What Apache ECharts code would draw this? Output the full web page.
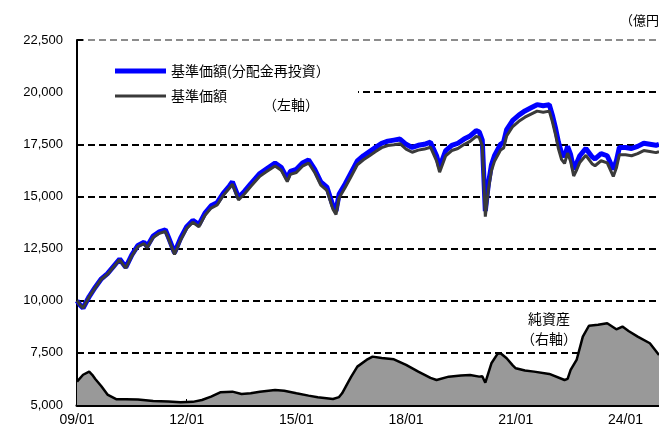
<!DOCTYPE html>
<html>
<head>
<meta charset="utf-8">
<script src="https://cdn.jsdelivr.net/npm/echarts@6/dist/echarts.min.js"></script>
<style>
html,body{margin:0;padding:0;background:#fff;}
#chart{width:659px;height:436px;}
</style>
</head>
<body>
<div id="chart"></div>
<script>
// ---- data ----
const priceDates = ["2009-01","2009-02","2009-03","2009-05","2009-07","2009-09","2009-11","2010-01","2010-03","2010-05","2010-07","2010-09","2010-11","2010-12","2011-02","2011-04","2011-06","2011-07","2011-09","2011-11","2012-01","2012-03","2012-05","2012-07","2012-09","2012-11","2013-01","2013-03","2013-04","2013-06","2013-08","2013-10","2014-01","2014-03","2014-06","2014-08","2014-10","2014-11","2015-01","2015-03","2015-05","2015-07","2015-09","2015-11","2016-01","2016-02","2016-03","2016-05","2016-07","2016-09","2016-11","2017-01","2017-03","2017-05","2017-07","2017-09","2017-11","2018-01","2018-03","2018-05","2018-07","2018-09","2018-11","2018-12","2019-02","2019-04","2019-06","2019-08","2019-10","2019-12","2020-01","2020-02","2020-03","2020-04","2020-05","2020-06","2020-08","2020-09","2020-10","2020-12","2021-02","2021-04","2021-06","2021-08","2021-10","2021-12","2022-01","2022-02","2022-03","2022-04","2022-05","2022-06","2022-07","2022-08","2022-09","2022-10","2022-12","2023-02","2023-03","2023-05","2023-07","2023-09","2023-10","2023-11","2024-01","2024-03","2024-05","2024-07","2024-09","2024-11","2024-12"];
const navReinvested = [10000,9800,9650,10200,10650,11050,11300,11650,12000,11600,12200,12650,12800,12600,13100,13300,13400,13050,12300,13000,13550,13850,13650,14200,14550,14700,15150,15500,15700,14950,15250,15600,16100,16300,16600,16400,15850,16200,16300,16600,16750,16300,15700,15450,14550,14300,15100,15600,16150,16700,16950,17150,17350,17550,17650,17700,17750,17500,17350,17450,17500,17600,16950,16400,17200,17450,17550,17750,17900,18150,18100,17700,14300,15600,16500,16950,17500,17600,18200,18650,18900,19100,19250,19400,19350,19400,18900,18300,17600,17100,16900,17400,17000,16300,16600,16950,17300,16900,16800,17050,16950,16300,16700,17350,17350,17300,17400,17550,17500,17450,17500];
const nav = [10000,9800,9650,10190,10630,11030,11270,11620,11960,11560,12150,12600,12740,12540,13030,13230,13320,12970,12220,12910,13460,13760,13550,14100,14440,14590,15050,15390,15590,14830,15130,15480,15970,16170,16460,16260,15710,16060,16150,16450,16600,16150,15540,15290,14380,14130,14930,15430,15970,16520,16760,16950,17150,17340,17440,17480,17530,17270,17120,17220,17270,17360,16710,16160,16950,17200,17300,17490,17640,17880,17830,17430,14030,15330,16230,16680,17220,17320,17900,18350,18600,18800,18950,19090,19040,19090,18590,17990,17280,16780,16580,17080,16680,15980,16280,16630,16970,16570,16470,16710,16610,15960,16360,17000,17000,16950,17050,17200,17150,17100,17150];

const assetDates = ["2009-01","2009-03","2009-05","2009-06","2009-07","2009-09","2009-11","2010-02","2010-05","2010-09","2011-02","2011-07","2011-11","2012-03","2012-06","2012-09","2012-12","2013-04","2013-07","2013-10","2014-01","2014-06","2014-09","2015-01","2015-05","2015-08","2016-01","2016-03","2016-04","2016-06","2016-07","2016-09","2016-12","2017-02","2017-05","2017-09","2018-01","2018-05","2018-09","2018-11","2019-03","2019-07","2019-10","2020-01","2020-02","2020-03","2020-05","2020-07","2020-08","2020-10","2020-12","2021-01","2021-04","2021-07","2021-12","2022-05","2022-06","2022-07","2022-09","2022-11","2023-01","2023-04","2023-07","2023-10","2023-12","2024-02","2024-05","2024-09","2024-12"];
const netAssets = [224,290,320,290,250,180,100,54,56,52,38,34,26,30,48,80,122,128,106,112,128,144,136,112,90,74,58,76,112,220,272,368,432,464,450,438,384,320,260,240,272,284,288,272,276,214,400,490,496,448,380,352,330,320,298,240,250,336,436,656,760,770,784,726,752,710,656,592,480];

const xTickLabelBase = 2009;
const leftTicks = {min:5000, max:22500, step:2500};
const rightTicks = {min:0, max:3500, step:500};
const seriesNames = ["基準価額(分配金再投資）","基準価額","純資産"];

function monthIndex(d){const [y,m]=d.split("-").map(Number);return (y-2009)*12+(m-1);}
function pairs(dates, vals){return dates.map((d,i)=>[monthIndex(d), vals[i]]);}

const FONT = "'Liberation Sans','Noto Sans CJK JP',sans-serif";
const CJK = "'Noto Sans CJK JP',sans-serif";

const chart = echarts.init(document.getElementById('chart'), null, {renderer:'canvas'});
chart.setOption({
  animation:false,
  backgroundColor:'#fff',
  grid:{left:77, top:40, right:0, bottom:31},
  legend:{
    data:[
      {name:seriesNames[0], icon:'path://M0,0H100V10H0Z'},
      {name:seriesNames[1], icon:'path://M0,0H100V6H0Z'}
    ],
    orient:'vertical', left:115, top:64, padding:0,
    itemWidth:51, itemHeight:14, itemGap:11,
    textStyle:{fontSize:14, color:'#000', fontFamily:CJK},
    selectedMode:false
  },
  xAxis:{
    type:'value', min:0, max:191, interval:36,
    axisLine:{show:true, onZero:false, lineStyle:{color:'#000', width:3}},
    axisTick:{show:true, inside:true, length:6, lineStyle:{color:'#000', width:1}},
    axisLabel:{
      showMaxLabel:false, margin:8, fontSize:14, color:'#000', fontFamily:FONT,
      formatter:v=>String((xTickLabelBase+Math.round(v/12))%100).padStart(2,'0')+'/01'
    },
    splitLine:{show:false}
  },
  yAxis:[{
    type:'value', min:leftTicks.min, max:leftTicks.max, interval:leftTicks.step,
    axisLine:{show:true, lineStyle:{color:'#000', width:2}},
    axisTick:{show:true, inside:true, length:6, lineStyle:{color:'#000', width:2}},
    axisLabel:{margin:14, fontSize:13, color:'#000', fontFamily:FONT,
      formatter:v=>v.toLocaleString('en-US')},
    splitLine:{show:true, lineStyle:{type:[7,4], width:2,
      color:['#000','#000','#000','#000','#000','#000','#000','#8c8c8c']}}
  },{
    type:'value', min:rightTicks.min, max:rightTicks.max, interval:rightTicks.step,
    show:false, splitLine:{show:false}
  }],
  graphic:[
    {type:'rect', z:1, shape:{x:78, y:56, width:280, height:62}, style:{fill:'#fff'}},
    {type:'text', z:5, x:263, y:105, style:{text:'（左軸）', fontSize:14, fontFamily:CJK, fill:'#000', textVerticalAlign:'middle'}},
    {type:'text', z:5, x:549, y:319, style:{text:'純資産', fontSize:14, fontFamily:CJK, fill:'#000', textAlign:'center', textVerticalAlign:'middle'}},
    {type:'text', z:5, x:549, y:339, style:{text:'（右軸）', fontSize:14, fontFamily:CJK, fill:'#000', textAlign:'center', textVerticalAlign:'middle'}},
    {type:'text', z:5, x:620, y:20, style:{text:'（億円）', fontSize:13, fontFamily:CJK, fill:'#000', textVerticalAlign:'middle'}}
  ],
  series:[
    {name:seriesNames[2], type:'line', yAxisIndex:1, symbol:'none', z:2,
     data:pairs(assetDates, netAssets),
     lineStyle:{color:'#000', width:2.5}, areaStyle:{color:'#999999', opacity:1}},
    {name:seriesNames[0], type:'line', symbol:'none', z:3,
     data:pairs(priceDates, navReinvested),
     lineStyle:{color:'#0000ff', width:5}, itemStyle:{color:'#0000ff'}},
    {name:seriesNames[1], type:'line', symbol:'none', z:4,
     data:pairs(priceDates, nav),
     lineStyle:{color:'#3a3a3a', width:3}, itemStyle:{color:'#3a3a3a'}}
  ]
});
</script>
</body>
</html>
